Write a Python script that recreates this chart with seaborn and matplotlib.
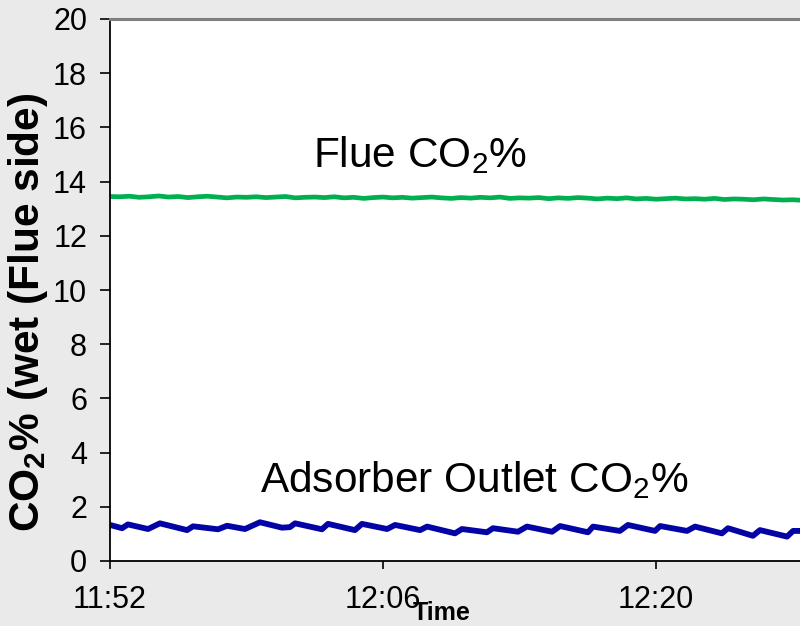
import matplotlib
matplotlib.use("Agg")
import numpy as np
import pandas as pd
import matplotlib.pyplot as plt
import seaborn as sns

# Minutes after 11:52 for the flue-gas analyser samples
flue_minutes = [
    0.0, 0.5, 1.0, 1.5, 2.0, 2.5, 3.0, 3.5, 4.0, 4.5,
    5.0, 5.5, 6.0, 6.5, 7.0, 7.5, 8.0, 8.5, 9.0, 9.5,
    10.0, 10.5, 11.0, 11.5, 12.0, 12.5, 13.0, 13.5, 14.0, 14.5,
    15.0, 15.5, 16.0, 16.5, 17.0, 17.5, 18.0, 18.5, 19.0, 19.5,
    20.0, 20.5, 21.0, 21.5, 22.0, 22.5, 23.0, 23.5, 24.0, 24.5,
    25.0, 25.5, 26.0, 26.5, 27.0, 27.5, 28.0, 28.5, 29.0, 29.5,
    30.0, 30.5, 31.0, 31.5, 32.0, 32.5, 33.0, 33.5, 34.0, 34.5,
    35.0, 35.5,
]
flue_co2 = [
    13.45, 13.44, 13.46, 13.42, 13.44, 13.47, 13.43, 13.45, 13.41, 13.44,
    13.46, 13.43, 13.40, 13.43, 13.42, 13.44, 13.41, 13.43, 13.45, 13.40,
    13.42, 13.43, 13.41, 13.44, 13.40, 13.42, 13.38, 13.41, 13.43, 13.40,
    13.42, 13.39, 13.41, 13.43, 13.40, 13.38, 13.41, 13.39, 13.42, 13.40,
    13.43, 13.38, 13.40, 13.39, 13.41, 13.37, 13.40, 13.38, 13.41, 13.39,
    13.36, 13.39, 13.37, 13.40, 13.36, 13.38, 13.35, 13.37, 13.39, 13.36,
    13.37, 13.35, 13.38, 13.34, 13.36, 13.35, 13.33, 13.36, 13.34, 13.32,
    13.33, 13.31,
]

# Adsorber outlet: cyclic swing (sharp rise at each bed switch, slow decay)
outlet_minutes = [
    0.0, 0.62, 0.92, 1.95, 2.56, 3.95, 4.26, 5.54, 6.0, 6.92,
    7.69, 8.82, 9.23, 9.49, 10.87, 11.18, 12.56, 12.92, 14.21, 14.62,
    15.9, 16.26, 17.69, 18.05, 19.33, 19.64, 20.92, 21.38, 22.67, 23.08,
    24.51, 24.77, 26.15, 26.56, 27.95, 28.21, 29.59, 30.0, 31.38, 31.69,
    32.97, 33.33, 34.72, 35.03, 35.38,
]
outlet_co2 = [
    1.33, 1.21, 1.35, 1.18, 1.39, 1.14, 1.28, 1.17, 1.30, 1.18,
    1.43, 1.23, 1.25, 1.39, 1.17, 1.37, 1.14, 1.37, 1.18, 1.33,
    1.14, 1.27, 1.02, 1.18, 1.06, 1.21, 1.08, 1.27, 1.08, 1.29,
    1.06, 1.27, 1.11, 1.33, 1.11, 1.29, 1.11, 1.27, 1.02, 1.21,
    0.93, 1.14, 0.90, 1.11, 1.11,
]

tick_minutes = [0, 14, 28]
tick_labels = ["11:52", "12:06", "12:20"]
y_ticks = [0, 2, 4, 6, 8, 10, 12, 14, 16, 18, 20]

flue_df = pd.DataFrame({"minutes": flue_minutes, "co2": flue_co2})
outlet_df = pd.DataFrame({"minutes": outlet_minutes, "co2": outlet_co2})

sns.set_theme(style="white")
plt.rcParams["font.family"] = ["Liberation Sans", "DejaVu Sans"]
plt.rcParams["mathtext.fontset"] = "custom"
plt.rcParams["mathtext.rm"] = "Liberation Sans"
plt.rcParams["mathtext.it"] = "Liberation Sans:italic"
plt.rcParams["mathtext.bf"] = "Liberation Sans:bold"

W, H = 800, 626
fig = plt.figure(figsize=(W / 100, H / 100), dpi=100, facecolor="#eaeaea")
ax = fig.add_axes([110 / W, 1 - 561 / H, 1 - 110 / W, (561 - 19) / H])
ax.set_facecolor("white")

sns.lineplot(data=flue_df, x="minutes", y="co2", ax=ax, color="#00b050", lw=3.4)
sns.lineplot(data=outlet_df, x="minutes", y="co2", ax=ax, color="#0303a6",
             lw=4.2, solid_joinstyle="round")

ax.set_xlim(0, 35.385)
ax.set_ylim(0, 20)
ax.set_xticks(tick_minutes)
ax.set_xticklabels(tick_labels)
ax.set_yticks(y_ticks)
ax.set_xlabel("")
ax.set_ylabel("")

ax.tick_params(axis="y", left=True, direction="out", length=7, width=1.2,
               color="black", labelsize=22, pad=9.5, labelcolor="black")
ax.tick_params(axis="x", bottom=True, direction="out", length=6, width=1.2,
               color="black", labelsize=22, pad=11, labelcolor="black")

for side in ("left", "bottom"):
    ax.spines[side].set_color("black")
    ax.spines[side].set_linewidth(1.3)
ax.spines["top"].set_color("#808080")
ax.spines["top"].set_linewidth(2.2)
ax.spines["right"].set_visible(False)

ax.text(10.41, 14.54, r"Flue CO$_2$%", fontsize=30.5, color="black",
        ha="left", va="baseline")
ax.text(7.69, 2.56, r"Adsorber Outlet CO$_2$%", fontsize=30.5, color="black",
        ha="left", va="baseline")

fig.text(28 / W, 1 - 312 / H, r"CO$_\mathbf{2}$% (wet (Flue side)", rotation=90,
         fontsize=30.5, fontweight="bold", ha="center", va="center", color="black")
fig.text(442 / W, 1 - 613 / H, "Time", fontsize=18, fontweight="bold",
         ha="center", va="center", color="black")

fig.savefig("out.png", dpi=100, facecolor=fig.get_facecolor())
